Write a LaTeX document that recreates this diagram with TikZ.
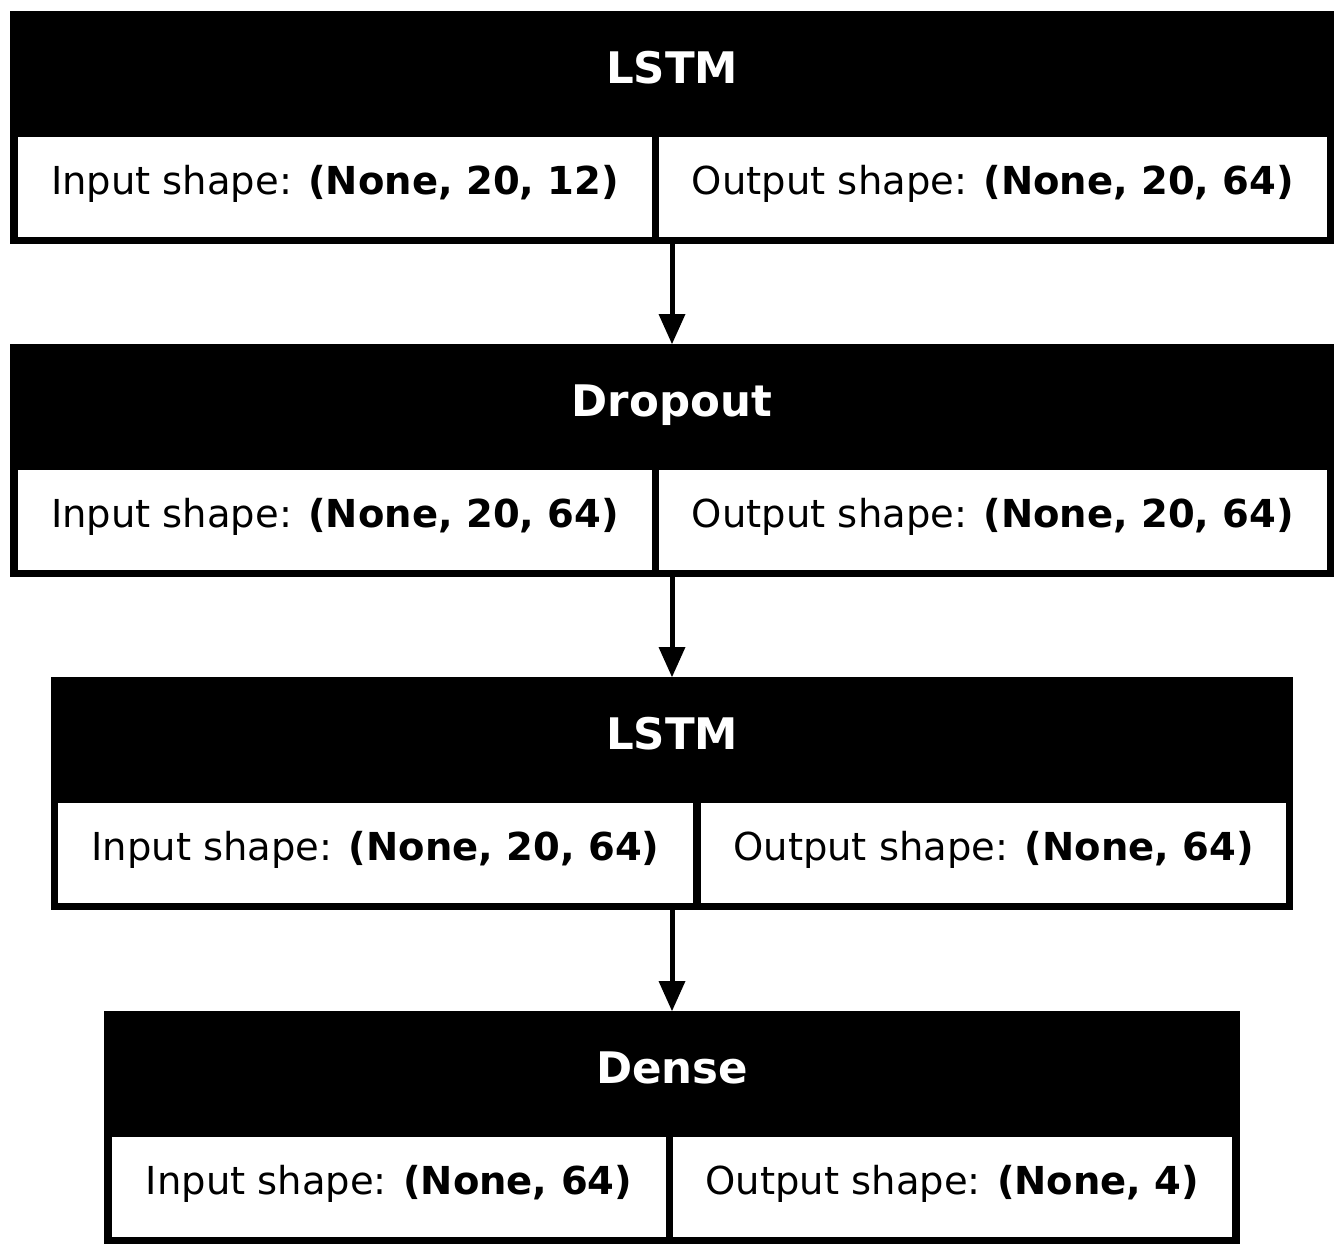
\documentclass[tikz,border=0pt]{standalone}
\usepackage{fontspec}
\setmainfont{DejaVu Sans}
\usetikzlibrary{arrows.meta}
\tikzset{
  blockbg/.style={fill=black, draw=none, inner sep=0pt, outer sep=0pt, minimum height=233pt, anchor=north west},
  cell/.style={fill=white, draw=none, inner xsep=0pt, inner ysep=0pt, outer sep=0pt, minimum height=100pt,
    text height=57pt, text depth=43pt, anchor=north west, font=\fontsize{38.5}{46}\selectfont},
  head/.style={text=white, anchor=base, inner sep=0pt, font=\fontsize{43.5}{50}\selectfont\bfseries},
  arr/.style={line width=5pt, -{Triangle[width=27pt,length=30pt,line width=0pt]}, shorten >=0pt}
}
\begin{document}
\begin{tikzpicture}[x=1pt,y=-1pt]
\useasboundingbox (0,0) rectangle (1344,1256);
% block 1
\node[blockbg, minimum width=1324pt] (b1) at (10,11) {};
\node[head] (h1) at (672,83) {LSTM};
\node[cell, minimum width=634pt] (b1i) at (18,137) {Input shape: \textbf{(None, 20, 12)}};
\node[cell, minimum width=668pt] (b1o) at (659,137) {Output shape: \textbf{(None, 20, 64)}};
% block 2
\node[blockbg, minimum width=1324pt] (b2) at (10,344) {};
\node[head] (h2) at (672,416) {Dropout};
\node[cell, minimum width=634pt] (b2i) at (18,470) {Input shape: \textbf{(None, 20, 64)}};
\node[cell, minimum width=668pt] (b2o) at (659,470) {Output shape: \textbf{(None, 20, 64)}};
% block 3
\node[blockbg, minimum width=1242pt] (b3) at (51,677) {};
\node[head] (h3) at (672,749) {LSTM};
\node[cell, minimum width=635pt] (b3i) at (58,803) {Input shape: \textbf{(None, 20, 64)}};
\node[cell, minimum width=585pt] (b3o) at (701,803) {Output shape: \textbf{(None, 64)}};
% block 4
\node[blockbg, minimum width=1136pt] (b4) at (104,1011) {};
\node[head] (h4) at (672,1083) {Dense};
\node[cell, minimum width=554pt] (b4i) at (112,1137) {Input shape: \textbf{(None, 64)}};
\node[cell, minimum width=559pt] (b4o) at (673,1137) {Output shape: \textbf{(None, 4)}};
% connectors
\draw[arr] (b1.south) -- (b2.north);
\draw[arr] (b2.south) -- (b3.north);
\draw[arr] (b3.south) -- (b4.north);
\end{tikzpicture}
\end{document}
